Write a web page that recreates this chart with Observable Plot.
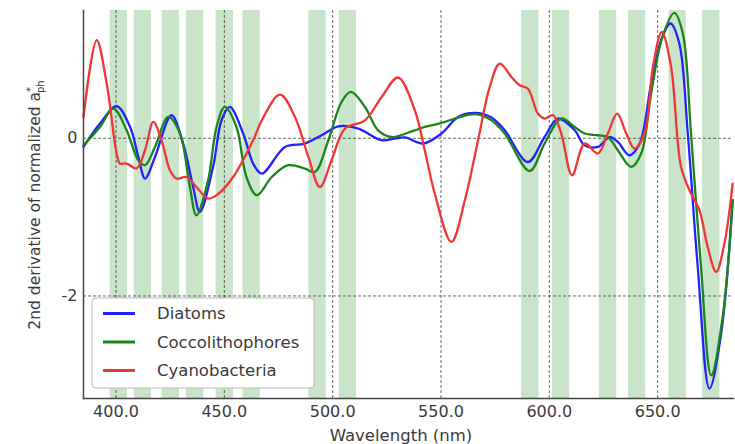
<!DOCTYPE html>
<html>
<head>
<meta charset="utf-8">
<script src="https://cdn.jsdelivr.net/npm/d3@7"></script>
<script src="https://cdn.jsdelivr.net/npm/@observablehq/plot@0.6"></script>
<style>
  html, body { margin: 0; padding: 0; background: #fff; }
  #chart { width: 735px; height: 444px; }
</style>
</head>
<body>
<div id="chart"></div>
<script>
// ---- data ----
const xTicks = [400, 450, 500, 550, 600, 650];
const yTicks = [0, -2];
const seriesNames = ["Diatoms", "Coccolithophores", "Cyanobacteria"];
const seriesColors = ["#2222ff", "#1a861a", "#f03636"];

// centres of the shaded wavelength bands (nm)
const bandCenters = [401.3, 412.4, 425.3, 436.5, 450.2, 462.6, 493, 507, 591.2, 605.4, 627.1, 640.5, 659.2, 674.7];
const bandHalfWidth = 4;

const diatomsNm  = [385, 392.6, 400.3, 406.5, 410.3, 413.4, 418.0, 425.6, 431.0, 435.6, 438.7, 444.8, 448.7, 452.5, 458.7, 463.3, 467.3, 478.0, 487.2, 494.9, 502.6, 511.8, 522.6, 528.7, 533.3, 541.8, 550.2, 557.9, 565.6, 573.3, 579.4, 590.1, 597.8, 604.0, 611.7, 616.3, 622.4, 627.8, 631.6, 637.0, 641.7, 647.0, 651.6, 655.9, 660.0, 663.9, 668.5, 673.9, 679.3, 684.6];
const diatomsVal = [-0.11, 0.186, 0.406, 0.143, -0.237, -0.511, -0.237, 0.292, -0.067, -0.618, -0.935, -0.364, 0.228, 0.397, 0.06, -0.321, -0.448, -0.11, -0.067, 0.038, 0.152, 0.123, -0.025, -0.004, 0.01, -0.067, 0.06, 0.27, 0.321, 0.263, 0.101, -0.301, 0.016, 0.25, 0.101, -0.089, -0.11, 0.016, -0.047, -0.216, -0.067, 0.694, 1.243, 1.455, 1.2, 0.06, -1.632, -3.174, -2.477, -0.786];

const coccoNm  = [385, 392.6, 398.8, 404.9, 410.3, 413.4, 418.0, 424.1, 429.5, 434.1, 437.1, 442.5, 446.4, 450.2, 455.6, 460.2, 465.0, 471.9, 479.5, 487.2, 491.8, 498.0, 504.1, 508.4, 514.9, 521.0, 527.2, 537.9, 542.5, 550.2, 557.9, 566.4, 573.3, 579.4, 590.9, 597.8, 605.5, 611.7, 616.3, 622.4, 627.0, 631.6, 637.8, 642.4, 647.0, 652.2, 657.7, 661.6, 665.4, 670.0, 674.7, 680.0, 684.6];
const coccoVal = [-0.089, 0.143, 0.377, 0.101, -0.279, -0.342, -0.11, 0.27, 0.06, -0.618, -0.977, -0.533, 0.143, 0.397, 0.143, -0.491, -0.723, -0.491, -0.342, -0.384, -0.427, -0.025, 0.46, 0.587, 0.397, 0.101, 0.016, 0.101, 0.143, 0.194, 0.263, 0.304, 0.228, 0.06, -0.415, -0.067, 0.25, 0.143, 0.06, 0.038, 0.016, -0.152, -0.364, -0.194, 0.571, 1.285, 1.59, 1.33, 0.06, -1.632, -3.006, -2.266, -0.786];

const cyanoNm  = [385, 391.1, 395.7, 400.3, 401.8, 404.9, 409.5, 413.4, 417.2, 421.0, 424.9, 427.9, 432.5, 437.1, 442.5, 446.4, 454.1, 463.3, 467.3, 475.7, 482.6, 488.8, 494.1, 499.5, 505.7, 514.9, 522.6, 530.2, 537.9, 542.5, 547.1, 554.8, 561.0, 567.1, 572.5, 577.1, 582.5, 586.3, 590.1, 594.7, 597.8, 601.7, 605.5, 610.5, 616.3, 622.4, 627.0, 631.3, 635.5, 639.3, 643.9, 647.8, 651.9, 656.2, 660.8, 665.4, 669.3, 673.1, 677.0, 680.8, 684.6];
const cyanoVal = [0.27, 1.243, 0.694, -0.194, -0.321, -0.321, -0.384, -0.152, 0.207, -0.025, -0.406, -0.511, -0.491, -0.618, -0.765, -0.723, -0.491, -0.025, 0.228, 0.554, 0.27, -0.237, -0.618, -0.279, 0.123, 0.228, 0.524, 0.77, 0.355, -0.152, -0.701, -1.315, -0.786, -0.025, 0.651, 0.947, 0.777, 0.672, 0.63, 0.313, 0.25, 0.292, 0.06, -0.47, -0.067, -0.194, 0.06, 0.313, 0.06, -0.131, 0.06, 0.904, 1.35, 0.904, -0.364, -0.701, -0.913, -1.379, -1.696, -1.335, -0.575];

const toRows = (nm, val) => nm.map((x, i) => ({x, y: val[i]}));
const series = [toRows(diatomsNm, diatomsVal), toRows(coccoNm, coccoVal), toRows(cyanoNm, cyanoVal)];

const W = 735, H = 444, mL = 83, mR = 2, mT = 10, mB = 46;
const font = "'DejaVu Sans', sans-serif";

const chart = Plot.plot({
  width: W, height: H,
  marginLeft: mL, marginRight: mR, marginTop: mT, marginBottom: mB,
  style: {fontFamily: font, fontSize: "16px", color: "#3a3a3a", background: "white"},
  x: {domain: [385, 685], ticks: xTicks, tickFormat: d => d.toFixed(1), tickSize: 0, tickPadding: 7, label: null},
  y: {domain: [-3.30, 1.62], ticks: yTicks, tickFormat: d => String(d), tickSize: 0, tickPadding: 6, label: null},
  marks: [
    Plot.rect(bandCenters, {x1: d => d - bandHalfWidth, x2: d => d + bandHalfWidth, fill: "#008000", fillOpacity: 0.21}),
    Plot.ruleX(xTicks, {stroke: "#000", strokeOpacity: 0.65, strokeDasharray: "3,2", strokeWidth: 0.9}),
    Plot.ruleY(yTicks, {stroke: "#000", strokeOpacity: 0.65, strokeDasharray: "3,2", strokeWidth: 0.9}),
    ...series.map((rows, i) => Plot.line(rows, {x: "x", y: "y", stroke: seriesColors[i], strokeWidth: 2.3, curve: "catmull-rom"})),
    Plot.frame({anchor: "left", stroke: "#444", strokeWidth: 1.5}),
    Plot.frame({anchor: "bottom", stroke: "#444", strokeWidth: 1.5})
  ]
});
document.getElementById("chart").appendChild(chart);

const svg = d3.select(chart);

// x axis title
svg.append("text")
  .attr("x", mL + (W - mL - mR) / 2 - 7).attr("y", H - 3)
  .attr("text-anchor", "middle").attr("font-family", font).attr("font-size", 16.5).attr("fill", "#3a3a3a")
  .text("Wavelength (nm)");

// y axis title with a*_ph
const yl = svg.append("text")
  .attr("transform", `translate(40,${mT + 195}) rotate(-90)`)
  .attr("text-anchor", "middle").attr("font-family", font).attr("font-size", 15.5).attr("fill", "#3a3a3a");
yl.append("tspan").text("2nd derivative of normalized a");
yl.append("tspan").attr("dy", -6).attr("font-size", 10).text("*");
yl.append("tspan").attr("dy", 10).attr("dx", -6).attr("font-size", 10).text("ph");

// legend
const lgX = mL + 9, lgY = H - mB - 100, lgW = 222, lgH = 90;
const lg = svg.append("g");
lg.append("rect").attr("x", lgX).attr("y", lgY).attr("width", lgW).attr("height", lgH)
  .attr("rx", 4).attr("fill", "white").attr("stroke", "#bbb").attr("stroke-width", 1);
seriesNames.forEach((name, i) => {
  const cy = lgY + 15.5 + i * 28.5;
  lg.append("line").attr("x1", lgX + 11).attr("x2", lgX + 43).attr("y1", cy).attr("y2", cy)
    .attr("stroke", seriesColors[i]).attr("stroke-width", 3);
  lg.append("text").attr("x", lgX + 65).attr("y", cy).attr("dy", "0.35em")
    .attr("text-anchor", "start")
    .attr("font-family", font).attr("font-size", 16.5).attr("fill", "#3a3a3a").text(name);
});
</script>
</body>
</html>
